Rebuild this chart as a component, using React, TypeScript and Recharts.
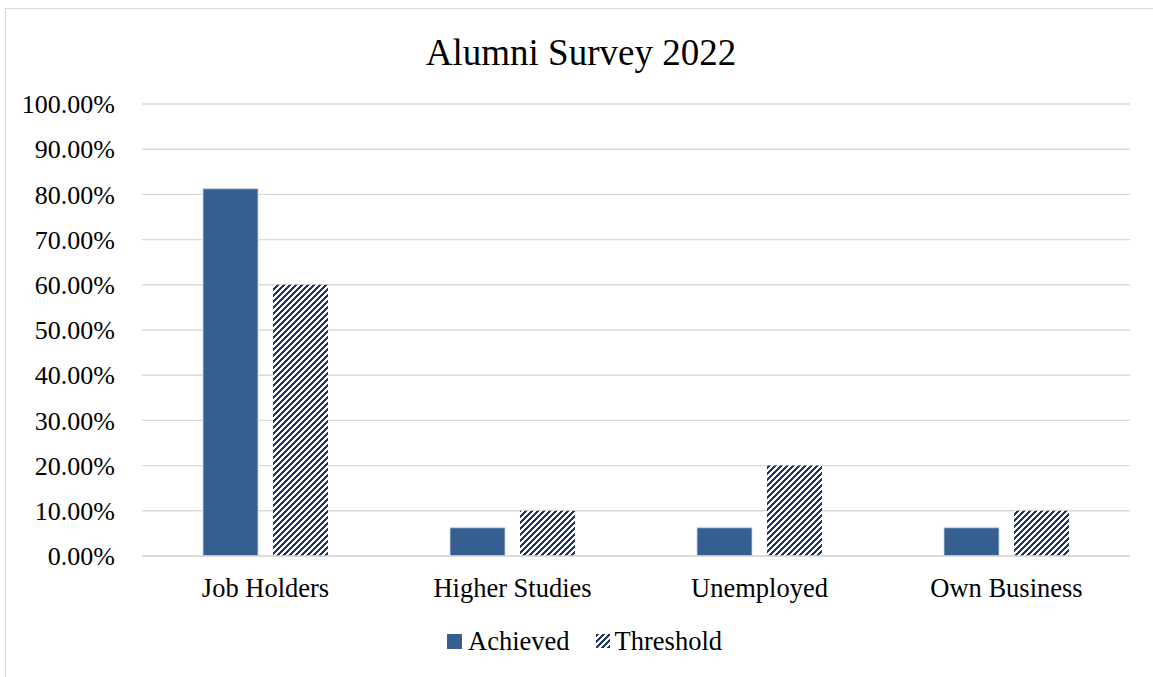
import React from 'react';
import { BarChart, Bar, XAxis, YAxis, CartesianGrid, Legend } from 'recharts';

const categories = ['Job Holders', 'Higher Studies', 'Unemployed', 'Own Business'];
const achieved = [81.25, 6.25, 6.25, 6.25];
const threshold = [60, 10, 20, 10];
const yTicks = [0, 10, 20, 30, 40, 50, 60, 70, 80, 90, 100];

const BLUE = '#365f91';
const NAVY = '#1f3864';
const FONT = '"Liberation Serif", "Times New Roman", serif';

const data = categories.map((name, i) => ({
  name,
  Achieved: achieved[i],
  Threshold: threshold[i],
}));

// wide upward diagonal hatch, pixel stepped like the office pattern fill
const HatchDef = ({ id }: { id: string }) => (
  <pattern id={id} patternUnits="userSpaceOnUse" width="6" height="6">
    <rect width="6" height="6" fill="#ffffff" />
    <polygon points="0,0 3,0 0,3" fill={NAVY} shapeRendering="crispEdges" />
    <polygon points="0,6 6,0 6,3 3,6" fill={NAVY} shapeRendering="crispEdges" />
  </pattern>
);

const LegendContent = () => (
  <div
    style={{
      display: 'flex',
      justifyContent: 'center',
      alignItems: 'center',
      fontFamily: FONT,
      fontSize: 26.5,
      color: '#000',
      height: 40,
      paddingLeft: 33,
    }}
  >
    <svg width="15" height="15" style={{ marginRight: 6 }}>
      <rect width="15" height="15" fill={BLUE} />
    </svg>
    <span>Achieved</span>
    <svg width="14" height="14" style={{ marginLeft: 26, marginRight: 5 }}>
      <defs>
        <HatchDef id="hatchLegend" />
      </defs>
      <rect width="14" height="14" fill="url(#hatchLegend)" />
    </svg>
    <span>Threshold</span>
  </div>
);

export default function App() {
  return (
    <div
      style={{
        position: 'fixed',
        left: 5,
        top: 8,
        width: 1160,
        height: 680,
        border: '1px solid #d9d9d9',
        boxSizing: 'border-box',
        background: '#ffffff',
      }}
    >
      <div
        style={{
          position: 'absolute',
          left: -4,
          width: 1158,
          top: 22,
          textAlign: 'center',
          fontFamily: FONT,
          fontSize: 37,
          color: '#000',
          lineHeight: '44px',
        }}
      >
        Alumni Survey 2022
      </div>
      <BarChart
        width={1158}
        height={678}
        data={data}
        margin={{ top: 95, right: 34, left: 0, bottom: 26 }}
        barSize={55}
        barGap={15}
      >
        <defs>
          <HatchDef id="hatch" />
        </defs>
        <CartesianGrid vertical={false} stroke="#d9d9d9" strokeWidth={1.4} />
        <XAxis
          dataKey="name"
          height={65}
          axisLine={{ stroke: '#d9d9d9', strokeWidth: 1.4 }}
          tickLine={false}
          tickMargin={16}
          tick={{ fill: '#000', fontSize: 26.5, fontFamily: FONT }}
        />
        <YAxis
          width={136}
          domain={[0, 100]}
          ticks={yTicks}
          interval={0}
          axisLine={false}
          tickLine={false}
          tickMargin={21}
          tickFormatter={(v: number) => `${v.toFixed(2)}%`}
          tick={{ fill: '#000', fontSize: 26, fontFamily: FONT }}
        />
        <Legend verticalAlign="bottom" height={40} content={<LegendContent />} />
        <Bar dataKey="Achieved" fill={BLUE} stroke="#c9d4e4" strokeWidth={0.8} isAnimationActive={false} />
        <Bar dataKey="Threshold" fill="url(#hatch)" isAnimationActive={false} />
      </BarChart>
    </div>
  );
}
